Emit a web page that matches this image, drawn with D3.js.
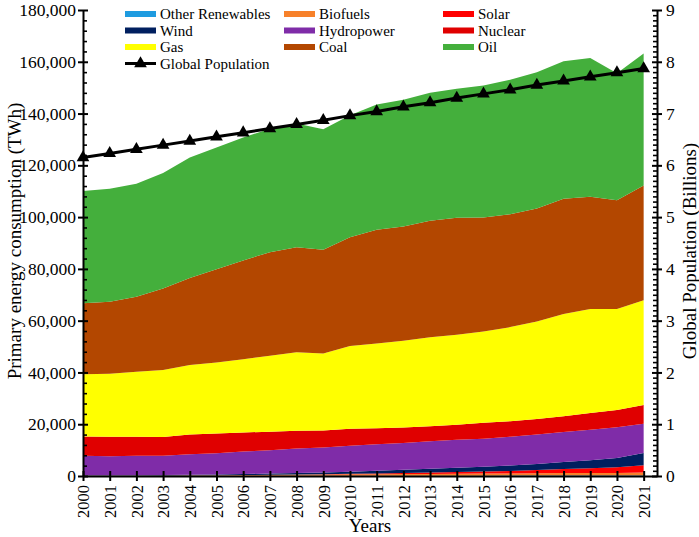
<!DOCTYPE html>
<html>
<head>
<meta charset="utf-8">
<script src="https://cdn.jsdelivr.net/npm/d3@7"></script>
<style>
  html, body { margin: 0; padding: 0; background: #fff; }
  svg { display: block; font-family: "Liberation Serif", "Times New Roman", serif; }
  svg text { font-family: "Liberation Serif", "Times New Roman", serif; }
</style>
</head>
<body>
<svg id="chart" width="699" height="537"></svg>
<script>
const years = [2000,2001,2002,2003,2004,2005,2006,2007,2008,2009,2010,2011,2012,2013,2014,2015,2016,2017,2018,2019,2020,2021];
const otherRenewables = [50,50,55,55,60,60,65,70,75,80,90,100,110,120,130,140,150,160,170,180,190,200];
const biofuels = [120,130,140,160,190,230,290,380,470,520,590,620,660,700,760,790,820,870,960,1010,980,1200];
const solar = [3,4,6,8,11,17,24,32,54,90,150,290,390,510,640,800,980,1250,1550,1850,2200,2800];
const wind = [80,100,130,170,220,280,350,440,580,700,850,1050,1230,1430,1620,1870,2100,2400,2700,3050,3600,4720];
const hydropower = [7530,7370,7450,7390,7940,8210,8710,9030,9400,9580,10050,10180,10360,10630,10880,10810,11130,11390,11580,11760,11900,11230];
const nuclear = [7520,7540,7410,7270,7650,7650,7390,7140,6900,6630,6510,6250,6000,5870,5740,6130,5990,5990,6120,6510,6630,7270];
const gas = [23990,24350,25110,25890,26780,27430,28310,29320,30340,29710,32000,32650,33540,34300,34810,35320,36340,37620,39540,40170,39030,40420];
const coal = [27390,27790,28940,31490,33660,35950,38140,40050,40550,40040,41960,43990,44120,45020,45150,43990,43610,43620,44500,43350,41940,44370];
const oil = [43380,43620,43620,44640,46560,47060,47440,47710,47820,46550,47170,48330,48970,49470,49850,51000,51910,52670,53060,53570,49120,51030];
const population = [6.15,6.23,6.31,6.39,6.47,6.55,6.63,6.71,6.79,6.87,6.96,7.04,7.13,7.21,7.30,7.38,7.46,7.55,7.63,7.71,7.79,7.87];

const seriesNames = ["Other Renewables","Biofuels","Solar","Wind","Hydropower","Nuclear","Gas","Coal","Oil"];
const seriesValues = [otherRenewables, biofuels, solar, wind, hydropower, nuclear, gas, coal, oil];
const seriesColors = ["#1E9BE0","#F7812A","#FF0000","#001F5F","#7F2CA8","#E00000","#FFFF00","#B34700","#44AF3C"];

const leftTicks = [0,20000,40000,60000,80000,100000,120000,140000,160000,180000];
const rightTicks = [0,1,2,3,4,5,6,7,8,9];

const FONT = "'Liberation Serif','Times New Roman',serif";
const svg = d3.select("#chart");
const x = d3.scaleLinear().domain([2000, 2021.5]).range([83, 657]);
const y = d3.scaleLinear().domain([0, 180000]).range([476, 10]);
const y2 = d3.scaleLinear().domain([0, 9]).range([476, 10]);

const table = years.map((yr, i) => {
  const row = { year: yr };
  seriesNames.forEach((n, k) => row[n] = seriesValues[k][i]);
  return row;
});
const stacked = d3.stack().keys(seriesNames)(table);

const area = d3.area()
  .x(d => x(d.data.year))
  .y0(d => y(d[0]))
  .y1(d => y(d[1]));

svg.append("g").selectAll("path")
  .data(stacked)
  .join("path")
  .attr("d", area)
  .attr("fill", (d, i) => seriesColors[i]);

// population line
const line = d3.line().x((d, i) => x(years[i])).y(d => y2(d));
svg.append("path")
  .datum(population)
  .attr("d", line)
  .attr("fill", "none")
  .attr("stroke", "#000")
  .attr("stroke-width", 3);
const tri = d3.symbol().type(d3.symbolTriangle).size(70);
svg.append("g").selectAll("path")
  .data(population)
  .join("path")
  .attr("d", tri)
  .attr("transform", (d, i) => `translate(${x(years[i])},${y2(d)})`)
  .attr("fill", "#000");

// axes
function styleAxis(g) {
  g.attr("font-family", null);
  g.select(".domain").attr("stroke", "#000").attr("stroke-width", 2);
  g.selectAll(".tick line").attr("stroke", "#000").attr("stroke-width", 2);
  g.selectAll(".tick text").attr("fill", "#000").style("font-family", FONT);
}

// left minor ticks
const leftMinor = d3.range(0, 180001, 4000).filter(v => v % 20000 !== 0);
svg.append("g").attr("transform", "translate(83,0)")
  .call(d3.axisRight(y).tickValues(leftMinor).tickSize(4).tickFormat(""))
  .call(g => { g.select(".domain").remove(); g.selectAll(".tick line").attr("stroke", "#000").attr("stroke-width", 1.6); });

// right minor ticks
const rightMinor = d3.range(0, 91).map(v => v / 10).filter((v, i) => i % 10 !== 0);
svg.append("g").attr("transform", "translate(657,0)")
  .call(d3.axisLeft(y2).tickValues(rightMinor).tickSize(4).tickFormat(""))
  .call(g => { g.select(".domain").remove(); g.selectAll(".tick line").attr("stroke", "#000").attr("stroke-width", 1.6); });

const fmt = d3.format(",");
svg.append("g").attr("transform", "translate(83,0)")
  .call(d3.axisLeft(y).tickValues(leftTicks).tickSize(5).tickSizeOuter(0).tickPadding(2).tickFormat(fmt))
  .call(styleAxis)
  .call(g => g.selectAll(".tick line").attr("x1", 5))
  .call(g => g.selectAll(".tick text").attr("font-size", 17.5));

svg.append("g").attr("transform", "translate(657,0)")
  .call(d3.axisRight(y2).tickValues(rightTicks).tickSize(5).tickSizeOuter(0).tickPadding(4))
  .call(styleAxis)
  .call(g => g.selectAll(".tick line").attr("x1", -5))
  .call(g => g.selectAll(".tick text").attr("font-size", 17.5));

svg.append("g").attr("transform", "translate(0,476)")
  .call(d3.axisBottom(x).tickValues(years).tickSize(5).tickSizeOuter(0).tickFormat(d3.format("d")))
  .call(styleAxis)
  .call(g => g.selectAll(".tick line").attr("y1", -5))
  .call(g => g.selectAll(".tick text")
    .attr("font-size", 16.5)
    .attr("transform", "rotate(-90)")
    .attr("text-anchor", "end")
    .attr("x", -9).attr("y", 0).attr("dy", "0.35em"));

// axis titles
svg.append("text")
  .attr("transform", "translate(14,241) rotate(-90)")
  .attr("text-anchor", "middle").attr("dy", "0.35em")
  .attr("font-size", 19)
  .text("Primary energy consumption (TWh)");
svg.append("text")
  .attr("transform", "translate(689,251) rotate(-90)")
  .attr("text-anchor", "middle").attr("dy", "0.35em")
  .attr("font-size", 19)
  .text("Global Population (Billions)");
svg.append("text")
  .attr("x", 370).attr("y", 532)
  .attr("text-anchor", "middle")
  .attr("font-size", 19)
  .text("Years");

// legend
const legendCols = [125, 284, 443];
const legendRows = [14, 30.5, 47, 63.5];
const lg = svg.append("g");
seriesNames.forEach((n, i) => {
  const cx = legendCols[i % 3], cy = legendRows[Math.floor(i / 3)];
  lg.append("rect").attr("x", cx).attr("y", cy - 3).attr("width", 31).attr("height", 6).attr("fill", seriesColors[i]);
  lg.append("text").attr("x", cx + 35).attr("y", cy).attr("dy", "0.35em").attr("font-size", 15).text(n);
});
const py = legendRows[3];
lg.append("line").attr("x1", 125).attr("x2", 156).attr("y1", py).attr("y2", py).attr("stroke", "#000").attr("stroke-width", 3);
lg.append("path").attr("d", tri).attr("transform", `translate(140.5,${py})`).attr("fill", "#000");
lg.append("text").attr("x", 160).attr("y", py).attr("dy", "0.35em").attr("font-size", 15).text("Global Population");
</script>
</body>
</html>
